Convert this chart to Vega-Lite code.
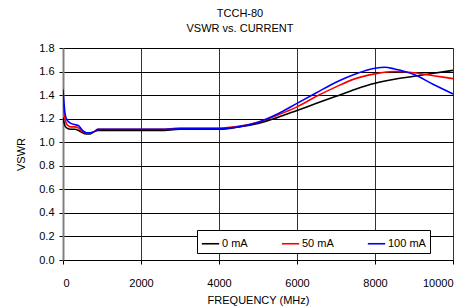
{
  "$schema": "https://vega.github.io/schema/vega-lite/v6.json",
  "width": 390,
  "height": 212,
  "autosize": {"type": "none"},
  "padding": {"left": 63, "top": 48, "right": 17, "bottom": 48},
  "title": {
    "text": ["TCCH-80", "VSWR vs. CURRENT"],
    "font": "Liberation Sans",
    "fontSize": 11,
    "fontWeight": "normal",
    "color": "#000",
    "lineHeight": 15,
    "offset": 8,
    "dx": -18
  },
  "data": {
    "values": [
      {"f": 0, "v": 1.21, "s": "0 mA"},
      {"f": 50, "v": 1.14, "s": "0 mA"},
      {"f": 100, "v": 1.12, "s": "0 mA"},
      {"f": 200, "v": 1.11, "s": "0 mA"},
      {"f": 300, "v": 1.11, "s": "0 mA"},
      {"f": 400, "v": 1.1, "s": "0 mA"},
      {"f": 500, "v": 1.08, "s": "0 mA"},
      {"f": 600, "v": 1.07, "s": "0 mA"},
      {"f": 700, "v": 1.07, "s": "0 mA"},
      {"f": 800, "v": 1.09, "s": "0 mA"},
      {"f": 900, "v": 1.1, "s": "0 mA"},
      {"f": 1000, "v": 1.1, "s": "0 mA"},
      {"f": 1500, "v": 1.1, "s": "0 mA"},
      {"f": 2000, "v": 1.1, "s": "0 mA"},
      {"f": 2500, "v": 1.1, "s": "0 mA"},
      {"f": 3000, "v": 1.11, "s": "0 mA"},
      {"f": 3500, "v": 1.11, "s": "0 mA"},
      {"f": 4000, "v": 1.11, "s": "0 mA"},
      {"f": 4500, "v": 1.13, "s": "0 mA"},
      {"f": 5000, "v": 1.16, "s": "0 mA"},
      {"f": 5500, "v": 1.21, "s": "0 mA"},
      {"f": 6000, "v": 1.27, "s": "0 mA"},
      {"f": 6500, "v": 1.33, "s": "0 mA"},
      {"f": 7000, "v": 1.39, "s": "0 mA"},
      {"f": 7500, "v": 1.45, "s": "0 mA"},
      {"f": 8000, "v": 1.5, "s": "0 mA"},
      {"f": 8500, "v": 1.535, "s": "0 mA"},
      {"f": 9000, "v": 1.56, "s": "0 mA"},
      {"f": 9500, "v": 1.585, "s": "0 mA"},
      {"f": 10000, "v": 1.61, "s": "0 mA"},
      {"f": 0, "v": 1.33, "s": "50 mA"},
      {"f": 50, "v": 1.2, "s": "50 mA"},
      {"f": 100, "v": 1.15, "s": "50 mA"},
      {"f": 200, "v": 1.13, "s": "50 mA"},
      {"f": 300, "v": 1.13, "s": "50 mA"},
      {"f": 400, "v": 1.12, "s": "50 mA"},
      {"f": 500, "v": 1.09, "s": "50 mA"},
      {"f": 600, "v": 1.08, "s": "50 mA"},
      {"f": 700, "v": 1.08, "s": "50 mA"},
      {"f": 800, "v": 1.09, "s": "50 mA"},
      {"f": 900, "v": 1.11, "s": "50 mA"},
      {"f": 1000, "v": 1.11, "s": "50 mA"},
      {"f": 1500, "v": 1.11, "s": "50 mA"},
      {"f": 2000, "v": 1.11, "s": "50 mA"},
      {"f": 2500, "v": 1.11, "s": "50 mA"},
      {"f": 3000, "v": 1.12, "s": "50 mA"},
      {"f": 3500, "v": 1.12, "s": "50 mA"},
      {"f": 4000, "v": 1.12, "s": "50 mA"},
      {"f": 4500, "v": 1.135, "s": "50 mA"},
      {"f": 5000, "v": 1.17, "s": "50 mA"},
      {"f": 5500, "v": 1.23, "s": "50 mA"},
      {"f": 6000, "v": 1.3, "s": "50 mA"},
      {"f": 6500, "v": 1.39, "s": "50 mA"},
      {"f": 7000, "v": 1.47, "s": "50 mA"},
      {"f": 7500, "v": 1.54, "s": "50 mA"},
      {"f": 8000, "v": 1.58, "s": "50 mA"},
      {"f": 8500, "v": 1.6, "s": "50 mA"},
      {"f": 9000, "v": 1.59, "s": "50 mA"},
      {"f": 9500, "v": 1.565, "s": "50 mA"},
      {"f": 10000, "v": 1.54, "s": "50 mA"},
      {"f": 0, "v": 1.45, "s": "100 mA"},
      {"f": 50, "v": 1.25, "s": "100 mA"},
      {"f": 100, "v": 1.19, "s": "100 mA"},
      {"f": 200, "v": 1.16, "s": "100 mA"},
      {"f": 300, "v": 1.15, "s": "100 mA"},
      {"f": 400, "v": 1.14, "s": "100 mA"},
      {"f": 500, "v": 1.1, "s": "100 mA"},
      {"f": 600, "v": 1.08, "s": "100 mA"},
      {"f": 700, "v": 1.08, "s": "100 mA"},
      {"f": 800, "v": 1.09, "s": "100 mA"},
      {"f": 900, "v": 1.11, "s": "100 mA"},
      {"f": 1000, "v": 1.11, "s": "100 mA"},
      {"f": 1500, "v": 1.11, "s": "100 mA"},
      {"f": 2000, "v": 1.11, "s": "100 mA"},
      {"f": 2500, "v": 1.11, "s": "100 mA"},
      {"f": 3000, "v": 1.115, "s": "100 mA"},
      {"f": 3500, "v": 1.115, "s": "100 mA"},
      {"f": 4000, "v": 1.115, "s": "100 mA"},
      {"f": 4500, "v": 1.13, "s": "100 mA"},
      {"f": 5000, "v": 1.17, "s": "100 mA"},
      {"f": 5500, "v": 1.24, "s": "100 mA"},
      {"f": 6000, "v": 1.33, "s": "100 mA"},
      {"f": 6500, "v": 1.42, "s": "100 mA"},
      {"f": 7000, "v": 1.51, "s": "100 mA"},
      {"f": 7500, "v": 1.58, "s": "100 mA"},
      {"f": 8000, "v": 1.628, "s": "100 mA"},
      {"f": 8250, "v": 1.637, "s": "100 mA"},
      {"f": 8500, "v": 1.622, "s": "100 mA"},
      {"f": 9000, "v": 1.575, "s": "100 mA"},
      {"f": 9500, "v": 1.49, "s": "100 mA"},
      {"f": 10000, "v": 1.41, "s": "100 mA"}
    ]
  },
  "mark": {"type": "line", "strokeWidth": 1.6, "interpolate": "monotone", "clip": true},
  "encoding": {
    "x": {
      "field": "f",
      "type": "quantitative",
      "title": "FREQUENCY (MHz)",
      "scale": {"domain": [0, 10000], "nice": false},
      "axis": {
        "values": [0, 2000, 4000, 6000, 8000, 10000],
        "format": "d",
        "grid": true,
        "gridColor": "#333",
        "gridOpacity": 1,
        "gridWidth": 1,
        "domainColor": "#000",
        "tickColor": "#000",
        "tickSize": 4,
        "labelPadding": 13,
        "titlePadding": 6
      }
    },
    "y": {
      "field": "v",
      "type": "quantitative",
      "title": "VSWR",
      "scale": {"domain": [0, 1.8], "nice": false, "zero": true},
      "axis": {
        "values": [0, 0.2, 0.4, 0.6, 0.8, 1.0, 1.2, 1.4, 1.6, 1.8],
        "format": ".1f",
        "grid": true,
        "gridColor": "#000",
        "gridOpacity": 1,
        "gridWidth": 1,
        "domainColor": "#808080",
        "domainWidth": 2,
        "tickColor": "#000",
        "tickSize": 4,
        "labelPadding": 5,
        "titlePadding": 12
      }
    },
    "color": {
      "field": "s",
      "type": "nominal",
      "scale": {"domain": ["0 mA", "50 mA", "100 mA"], "range": ["#000000", "#ff0000", "#0000ff"]},
      "legend": {
        "title": null,
        "orient": "none",
        "legendX": 134,
        "legendY": 182,
        "direction": "horizontal",
        "symbolType": "stroke",
        "symbolSize": 300,
        "symbolStrokeWidth": 1.6,
        "labelOffset": 2,
        "columnPadding": 30,
        "padding": 4,
        "fillColor": "#fff",
        "strokeColor": "#000",
        "labelFontSize": 11
      }
    }
  },
  "config": {
    "font": "Liberation Sans",
    "view": {"stroke": null},
    "axis": {
      "labelFont": "Liberation Sans",
      "labelFontSize": 11,
      "labelColor": "#000",
      "titleFont": "Liberation Sans",
      "titleFontSize": 11,
      "titleFontWeight": "normal",
      "titleColor": "#000"
    },
    "legend": {"labelFont": "Liberation Sans", "labelColor": "#000"}
  }
}
